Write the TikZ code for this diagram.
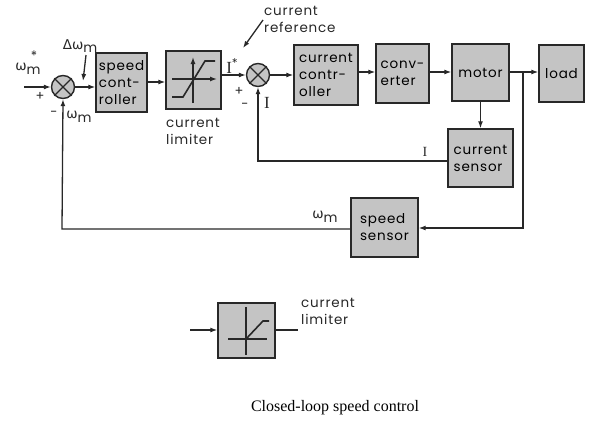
\documentclass[tikz,border=0pt]{standalone}
\usepackage{fontspec}
\setmainfont{Liberation Serif}
\newfontfamily\lbl[LetterSpace=6]{Poppins}
\newfontfamily\omf{DejaVu Sans}
\usetikzlibrary{arrows.meta,calc}
\definecolor{boxgray}{RGB}{196,196,196}
\definecolor{ink}{RGB}{40,40,40}
\newcommand{\wm}{{\omf ω}\raisebox{-3.5pt}{m}}
\begin{document}
\begin{tikzpicture}[x=1pt,y=-1pt,
  >={Latex[length=7pt,width=5pt]},
  line/.style={draw=ink,line width=1.3pt},
  blk/.style={draw=ink,fill=boxgray,line width=1.4pt,inner sep=1pt,align=left,
    font=\lbl\fontsize{13.5}{17}\selectfont},
  sumc/.style={circle,draw=ink,fill=boxgray,line width=1.4pt,minimum size=23pt,inner sep=0pt},
  tx/.style={font=\lbl\fontsize{13.5}{17}\selectfont,inner sep=0pt,align=left,text=ink},
  sg/.style={font=\lbl\fontsize{13}{13}\selectfont,inner sep=0pt,text=ink},
  iv/.style={font=\rmfamily\fontsize{17}{17}\selectfont,inner sep=0pt,text=ink}]
\useasboundingbox (0,0) rectangle (600,434);
% blocks
\node[blk,minimum width=51pt,minimum height=59pt] (sc) at (121.5,82.5) {speed\\cont-\\roller};
\node[blk,minimum width=55pt,minimum height=58pt] (lim) at (193.5,80) {};
\node[blk,minimum width=64pt,minimum height=60pt] (cc) at (326,75) {current\\contr-\\oller};
\node[blk,minimum width=53pt,minimum height=59pt] (cv) at (402.5,73.5) {conv-\\erter};
\node[blk,minimum width=57pt,minimum height=57pt] (mo) at (480.5,72.5) {motor};
\node[blk,minimum width=45pt,minimum height=57pt] (ld) at (561.5,73.5) {load};
\node[blk,minimum width=65pt,minimum height=58pt] (cs) at (480.5,158) {current\\sensor};
\node[blk,minimum width=67pt,minimum height=59pt] (ss) at (384.5,227.5) {speed\\sensor};
% summing junctions
\node[sumc] (s1) at (63,87) {};
\node[sumc] (s2) at (258,75) {};
\foreach \s in {s1,s2}{
  \draw[line] (\s.north west) -- (\s.south east);
  \draw[line] (\s.north east) -- (\s.south west);}
% limiter graphic
\draw[line,->] (193,103) -- (193,57);
\draw[line,->] (172,79) -- (217,79);
\draw[draw=ink,line width=1.6pt] (172,97) -- (183,97) -- (205,61) -- (215,61);
% coordinates
\coordinate (in) at (24,87);
\coordinate (j) at (523,72);
\coordinate (jb) at (523,228);
\coordinate (fb1) at (62,229);
\coordinate (fb2) at (258,161);
% connectors
\draw[line,->] (in) -- (s1.west);
\draw[line,->] (s1.east) -- (s1.east -| sc.west);
\draw[line,->] (sc.east |- 0,82) -- (lim.west |- 0,82);
\draw[line,->] (lim.east |- s2.west) -- (s2.west);
\draw[line,->] (s2.east) -- (s2.east -| cc.west);
\draw[line,->] (cc.east |- 0,72) -- (cv.west |- 0,72);
\draw[line,->] (cv.east |- 0,72) -- (mo.west |- 0,72);
\draw[line,->] (mo.east |- j) -- (ld.west |- j);
\draw[line,->] (mo.south) -- (cs.north);
\draw[line,->] (j) -- (jb) -- (jb -| ss.east);
\draw[line,->] (cs.west |- fb2) -- (fb2) -- (s2.south);
\draw[line,->] (ss.west |- fb1) -- (fb1) -- (s1.south);
% labels
\node[tx] (lw) at (28,69) {\wm};
\node[sg] (lst) at (34,56) {*};
\node[sg] (p1) at (40,96) {+};
\node[sg] (m1) at (54,114) {-};
\node[tx] (lw2) at (79,117) {\wm};
\node[tx] (ldw) at (80,46) {{\omf Δω}\raisebox{-3.5pt}{m}};
\coordinate (dwt) at (86,55);
\coordinate (dwh) at (83,81);
\draw[line,->] (dwt) -- (dwh);
\node[tx] (lcl) at (193,131) {current\\limiter};
\node[iv] (li) at (232,66) {I\raisebox{6pt}{\lbl\fontsize{12}{12}\selectfont *}};
\node[sg] (p2) at (239,91) {+};
\node[sg] (m2) at (245,106) {-};
\node[iv] (lI) at (267,103) {I};
\node[tx,anchor=west] (lcr) at (264,19) {current\\reference};
\coordinate (crt) at (263,20);
\coordinate (crh) at (243,48);
\draw[line,->] (crt) -- (crh);
\node[iv,font=\rmfamily\fontsize{14}{14}\selectfont] (lI2) at (425,152) {I};
\node[tx] (lw3) at (325,217) {\wm};
% bottom legend
\node[blk,minimum width=57pt,minimum height=55pt] (lg) at (246.5,330.5) {};
\coordinate (lgin) at (190,330);
\coordinate (lgout) at (298,330);
\draw[line,->] (lgin) -- (lg.west |- lgin);
\draw[line] (lg.east |- lgout) -- (lgout);
\draw[draw=ink,line width=1.1pt] (246,307) -- (246,355);
\draw[draw=ink,line width=1.1pt] (228,339) -- (267,339);
\draw[draw=ink,line width=1.6pt] (230,339) -- (246,339) -- (263,321) -- (269,321);
\node[tx,anchor=west] (lgl) at (301,311) {current\\limiter};
\node[font=\fontsize{16}{16}\selectfont,inner sep=0pt] (cap) at (335,408) {Closed-loop speed control};
\end{tikzpicture}
\end{document}
